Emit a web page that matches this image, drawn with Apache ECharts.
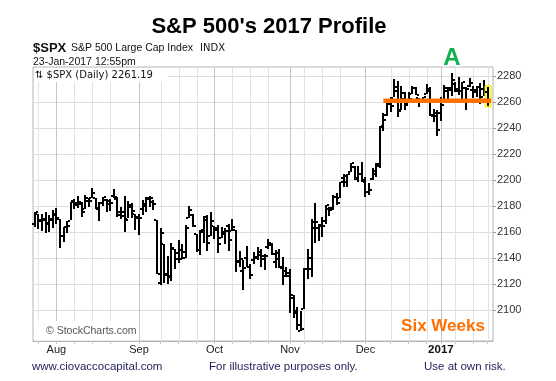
<!DOCTYPE html>
<html><head><meta charset="utf-8">
<script src="https://cdn.jsdelivr.net/npm/echarts@6/dist/echarts.min.js"></script>
<style>html,body{margin:0;padding:0;background:#fff}#c{width:556px;height:381px}</style>
</head><body><div id="c"></div>
<script>
// ---------- data ----------
const dates = [
'2016-07-22','2016-07-25','2016-07-26','2016-07-27','2016-07-28','2016-07-29',
'2016-08-01','2016-08-02','2016-08-03','2016-08-04','2016-08-05','2016-08-08','2016-08-09','2016-08-10','2016-08-11','2016-08-12',
'2016-08-15','2016-08-16','2016-08-17','2016-08-18','2016-08-19','2016-08-22','2016-08-23','2016-08-24','2016-08-25','2016-08-26',
'2016-08-29','2016-08-30','2016-08-31',
'2016-09-01','2016-09-02','2016-09-06','2016-09-07','2016-09-08','2016-09-09','2016-09-12','2016-09-13','2016-09-14','2016-09-15','2016-09-16',
'2016-09-19','2016-09-20','2016-09-21','2016-09-22','2016-09-23','2016-09-26','2016-09-27','2016-09-28','2016-09-29','2016-09-30',
'2016-10-03','2016-10-04','2016-10-05','2016-10-06','2016-10-07','2016-10-10','2016-10-11','2016-10-12','2016-10-13','2016-10-14',
'2016-10-17','2016-10-18','2016-10-19','2016-10-20','2016-10-21','2016-10-24','2016-10-25','2016-10-26','2016-10-27','2016-10-28','2016-10-31',
'2016-11-01','2016-11-02','2016-11-03','2016-11-04','2016-11-07','2016-11-08','2016-11-09','2016-11-10','2016-11-11',
'2016-11-14','2016-11-15','2016-11-16','2016-11-17','2016-11-18','2016-11-21','2016-11-22','2016-11-23','2016-11-25',
'2016-11-28','2016-11-29','2016-11-30',
'2016-12-01','2016-12-02','2016-12-05','2016-12-06','2016-12-07','2016-12-08','2016-12-09','2016-12-12','2016-12-13','2016-12-14','2016-12-15','2016-12-16',
'2016-12-19','2016-12-20','2016-12-21','2016-12-22','2016-12-23','2016-12-27','2016-12-28','2016-12-29','2016-12-30',
'2017-01-03','2017-01-04','2017-01-05','2017-01-06','2017-01-09','2017-01-10','2017-01-11','2017-01-12','2017-01-13',
'2017-01-17','2017-01-18','2017-01-19','2017-01-20','2017-01-23'
];
const opens = [
2166.47,2173.71,2168.97,2169.81,2166.05,2168.83,
2173.15,2169.94,2156.81,2163.51,2168.79,2183.76,2182.24,2182.81,2177.97,2183.74,
2186.08,2186.24,2177.84,2181.90,2184.24,2181.58,2187.81,2185.09,2173.29,2175.10,
2170.19,2179.45,2173.56,
2171.33,2177.49,2181.61,2185.17,2182.76,2169.08,2120.86,2150.47,2127.86,2125.36,2146.48,
2143.99,2145.94,2144.58,2170.94,2173.29,2158.54,2146.04,2161.85,2168.90,2156.51,
2164.33,2163.37,2155.15,2158.22,2164.19,2160.39,2161.35,2137.67,2130.26,2139.68,
2132.95,2138.31,2140.81,2142.51,2139.43,2148.50,2149.72,2136.97,2144.06,2132.23,2129.78,
2128.68,2109.43,2098.80,2083.79,2100.59,2131.56,2131.56,2167.49,2162.71,
2165.64,2168.29,2177.53,2178.61,2186.85,2186.43,2201.56,2198.55,2206.27,
2210.21,2200.76,2204.97,
2200.17,2191.12,2200.65,2207.26,2210.72,2241.13,2249.73,2258.83,2263.32,2268.35,2253.77,2266.81,
2259.24,2266.50,2270.54,2262.93,2260.25,2266.23,2270.23,2249.50,2251.61,
2251.57,2261.60,2268.18,2271.14,2273.59,2269.72,2268.60,2271.14,2272.74,
2269.14,2269.14,2271.90,2269.96,2267.78
];
const highs = [
2175.11,2173.71,2173.54,2174.98,2172.85,2177.09,
2178.29,2170.20,2163.79,2168.19,2182.87,2185.44,2187.66,2183.41,2188.45,2186.28,
2193.81,2186.24,2183.08,2187.03,2185.00,2185.15,2193.42,2186.66,2179.00,2187.94,
2183.48,2182.27,2173.79,
2173.56,2184.87,2186.57,2187.87,2184.94,2169.08,2163.30,2150.47,2141.33,2151.31,2146.48,
2153.61,2150.80,2165.11,2179.99,2173.75,2158.54,2161.13,2172.40,2172.67,2175.30,
2164.41,2165.46,2163.95,2162.93,2165.86,2169.60,2161.56,2145.36,2138.19,2149.19,
2135.61,2144.38,2148.44,2147.18,2142.63,2154.79,2151.44,2145.73,2147.13,2140.72,2133.25,
2131.45,2111.76,2102.56,2099.07,2132.00,2146.87,2170.10,2182.30,2165.92,
2171.36,2180.84,2179.22,2188.06,2189.89,2198.70,2204.80,2204.72,2213.35,
2211.14,2210.46,2214.10,
2202.60,2197.95,2209.42,2212.78,2241.63,2251.69,2259.80,2264.03,2277.53,2276.20,2272.12,2268.05,
2267.47,2272.56,2271.23,2263.18,2263.79,2273.82,2271.31,2254.51,2253.58,
2263.88,2272.82,2271.50,2282.10,2275.49,2279.27,2275.32,2271.78,2278.68,
2272.08,2272.01,2274.33,2276.96,2271.78
];
const lows = [
2163.24,2161.95,2160.18,2159.07,2159.74,2163.49,
2166.21,2147.58,2152.25,2159.07,2168.79,2177.85,2178.61,2172.00,2177.97,2179.42,
2186.08,2178.14,2168.50,2180.46,2175.13,2175.96,2186.80,2171.25,2169.74,2160.39,
2170.19,2170.41,2161.35,
2157.09,2173.59,2175.10,2179.07,2177.49,2127.81,2119.12,2120.27,2119.90,2122.36,2131.20,
2135.91,2139.17,2139.57,2170.94,2163.97,2145.04,2141.55,2151.79,2145.20,2156.51,
2154.77,2144.01,2155.15,2150.28,2144.85,2160.39,2128.84,2132.77,2114.72,2132.98,
2124.43,2135.49,2138.15,2133.44,2130.09,2146.91,2141.93,2131.59,2132.52,2119.36,2125.53,
2097.85,2094.00,2085.23,2083.79,2100.59,2123.56,2125.35,2151.17,2152.49,
2156.08,2166.38,2172.20,2176.65,2180.38,2186.43,2194.51,2194.51,2206.27,
2200.36,2198.15,2198.81,
2187.44,2188.37,2199.97,2202.21,2208.93,2237.57,2249.23,2252.37,2263.32,2248.44,2253.77,2254.24,
2259.24,2266.14,2265.15,2256.08,2258.84,2266.15,2249.11,2244.56,2233.62,
2245.13,2261.60,2260.45,2264.06,2268.04,2265.27,2260.83,2254.25,2271.51,
2262.81,2263.35,2258.41,2265.01,2257.02
];
const closes = [
2175.03,2168.48,2169.18,2166.58,2170.06,2173.60,
2170.84,2157.03,2163.79,2164.25,2182.87,2180.89,2181.74,2175.49,2185.79,2184.05,
2190.15,2178.15,2182.22,2187.02,2183.87,2182.64,2186.90,2175.44,2172.47,2169.04,
2180.38,2176.12,2170.95,
2170.86,2179.98,2186.48,2186.16,2181.30,2127.81,2159.04,2127.02,2125.77,2147.26,2139.16,
2139.12,2139.76,2163.12,2177.18,2164.69,2146.10,2159.93,2171.37,2151.13,2168.27,
2161.20,2150.49,2159.73,2160.77,2153.74,2163.66,2136.73,2139.18,2132.55,2132.98,
2126.50,2139.60,2144.29,2141.34,2141.16,2151.33,2143.16,2139.43,2133.04,2126.41,2126.15,
2111.72,2097.94,2088.66,2085.18,2131.52,2139.56,2163.26,2167.48,2164.45,
2164.20,2180.39,2176.94,2187.12,2181.90,2198.18,2202.94,2204.72,2213.35,
2201.72,2204.66,2198.81,
2191.08,2191.95,2204.71,2212.23,2241.35,2246.19,2259.53,2256.96,2271.72,2253.28,2262.03,2258.07,
2262.53,2270.76,2265.18,2260.96,2263.79,2268.88,2249.92,2249.26,2238.83,
2257.83,2270.75,2269.00,2276.98,2268.90,2268.90,2275.32,2270.44,2274.64,
2267.89,2271.89,2263.69,2271.31,2261.19
];
const monthNames = ['Jan','Feb','Mar','Apr','May','Jun','Jul','Aug','Sep','Oct','Nov','Dec'];
const yTickMin = 2100, yTickMax = 2280, yTickStep = 20;   // y tick labels 2100..2280
const yViewMin = 2076, yViewMax = 2287;
const supportLevel = 2261;
const supportStartDate = '2016-12-08';
const lastQuote = '2261.19';

// ---------- derived ----------
const N = dates.length;
const cats = dates.concat(['']);
const monthIdx = [], weekIdx0 = [];
for (let i = 1; i < N; i++) {
  const a = new Date(dates[i-1] + 'T00:00:00Z'), b = new Date(dates[i] + 'T00:00:00Z');
  if (a.getUTCMonth() !== b.getUTCMonth()) monthIdx.push(i);
  else if (b.getUTCDay() <= a.getUTCDay()) weekIdx0.push(i);
}
const weekIdx = weekIdx0.filter(i => monthIdx.every(m => Math.abs(i - m) > 3));
const monthSet = new Set(monthIdx), weekSet = new Set(weekIdx);
const ohlc = dates.map((d, i) => [i, opens[i], highs[i], lows[i], closes[i]]);
const gridLineData = monthIdx.map(i => [i, 2200, 1]).concat(weekIdx.map(i => [i, 2200, 0]));
const supportData = cats.map(() => null);
supportData[dates.indexOf(supportStartDate)] = supportLevel;
supportData[cats.length - 1] = supportLevel;

const FONT = 'Liberation Sans, Arial, sans-serif';
const chart = echarts.init(document.getElementById('c'), null, {renderer: 'canvas'});
const GL = 33, GR = 63, GT = 67, GB = 40;
const pxPerUnit = (381 - GT - GB) / (yViewMax - yViewMin);

chart.setOption({
  animation: false,
  backgroundColor: '#fff',
  grid: [
    {left: GL, right: GR, top: GT, bottom: GB, show: true, borderColor: '#b4b4b4', borderWidth: 1},
    {left: GL, right: GR, top: GT + (yViewMax - yTickMax) * pxPerUnit, height: (yTickMax - yTickMin) * pxPerUnit}
  ],
  xAxis: [
    {type: 'category', gridIndex: 0, data: cats, boundaryGap: true,
     axisLine: {show: true, lineStyle: {color: '#b4b4b4'}},
     axisTick: {show: true, alignWithLabel: true, length: 3, interval: (i) => monthSet.has(i) || weekSet.has(i), lineStyle: {color: '#c8c8c8'}},
     axisLabel: {interval: (i) => monthSet.has(i), margin: 3, fontSize: 11, color: '#222', fontFamily: FONT,
       formatter: (v) => { const m = +v.slice(5, 7) - 1; return m === 0 ? '{b|' + v.slice(0, 4) + '}' : monthNames[m]; },
       rich: {b: {fontWeight: 'bold', fontSize: 11.5, color: '#111', fontFamily: FONT}}},
     splitLine: {show: false}},
    {type: 'category', gridIndex: 1, data: cats, show: false}
  ],
  yAxis: [
    {type: 'value', gridIndex: 0, min: yViewMin, max: yViewMax, show: false, splitLine: {show: false}},
    {type: 'value', gridIndex: 1, position: 'right', min: yTickMin, max: yTickMax, interval: yTickStep,
     axisLine: {show: false}, axisTick: {show: true, length: 3, lineStyle: {color: '#999'}},
     axisLabel: {color: '#333', fontSize: 11, margin: 4, fontFamily: FONT, formatter: (v) => String(v)},
     splitLine: {show: true, lineStyle: {color: '#dedede', width: 1}}}
  ],
  series: [
    {type: 'custom', name: 'vgrid', xAxisIndex: 0, yAxisIndex: 0, data: gridLineData, silent: true, z: 1,
     encode: {x: 0, y: 1},
     renderItem: (params, api) => {
       const cs = params.coordSys;
       const x = Math.round(api.coord([api.value(0), api.value(1)])[0]) + 0.5;
       return {type: 'line', shape: {x1: x, y1: cs.y, x2: x, y2: cs.y + cs.height},
         style: {stroke: api.value(2) ? '#c6c6c6' : '#e2e2e2', lineWidth: 1}};
     }},
    {type: 'custom', name: '$SPX', xAxisIndex: 0, yAxisIndex: 0, data: ohlc, z: 3,
     encode: {x: 0, y: [1, 2, 3, 4]},
     renderItem: (params, api) => {
       const i = api.value(0);
       const pO = api.coord([i, api.value(1)]), pH = api.coord([i, api.value(2)]);
       const pL = api.coord([i, api.value(3)]), pC = api.coord([i, api.value(4)]);
       const x = Math.round(pH[0]);
       const ch = [];
       if (i === N - 1) ch.push({type: 'rect', shape: {x: x - 3, y: pH[1] - 1, width: 6, height: pL[1] - pH[1] + 2},
         style: {fill: '#ffff80', stroke: '#e8e800', lineWidth: 1}});
       ch.push({type: 'rect', shape: {x: x - 1, y: Math.round(pH[1]), width: 2, height: Math.max(1, Math.round(pL[1] - pH[1]))}, style: {fill: '#000'}});
       ch.push({type: 'rect', shape: {x: x - 3, y: Math.round(pO[1]) - 1, width: 2, height: 2}, style: {fill: '#000'}});
       ch.push({type: 'rect', shape: {x: x + 1, y: Math.round(pC[1]) - 1, width: 2, height: 2}, style: {fill: '#000'}});
       return {type: 'group', children: ch};
     }},
    {type: 'line', name: 'support', xAxisIndex: 0, yAxisIndex: 0, data: supportData, connectNulls: true,
     symbol: 'none', silent: true, z: 5, lineStyle: {color: '#ff7000', width: 4.5, cap: 'butt'}}
  ],
  graphic: [
    {type: 'text', x: 269, y: 27, z: 100, style: {text: "S&P 500's 2017 Profile", font: 'bold 22px ' + FONT, fill: '#000', align: 'center', verticalAlign: 'middle'}},
    {type: 'text', x: 33, y: 48, z: 100, style: {text: '$SPX', font: 'bold 13px ' + FONT, fill: '#111', verticalAlign: 'middle'}},
    {type: 'text', x: 71, y: 48, z: 100, style: {text: 'S&P 500 Large Cap Index', font: '10.5px ' + FONT, fill: '#111', verticalAlign: 'middle'}},
    {type: 'text', x: 200, y: 48, z: 100, style: {text: 'INDX', font: '10px DejaVu Sans, sans-serif', fill: '#111', verticalAlign: 'middle'}},
    {type: 'text', x: 33, y: 62, z: 100, style: {text: '23-Jan-2017 12:55pm', font: '10.5px ' + FONT, fill: '#111', verticalAlign: 'middle'}},
    {type: 'rect', z: 99, shape: {x: 34, y: 68, width: 134, height: 14}, style: {fill: '#fff'}},
    {type: 'text', x: 35, y: 75, z: 100, style: {text: '\u21C5 $SPX (Daily) ' + lastQuote, font: '10px DejaVu Sans, sans-serif', fill: '#111', verticalAlign: 'middle'}},
    {type: 'rect', z: 99, shape: {x: 34, y: 321, width: 105, height: 19.5}, style: {fill: '#fff'}},
    {type: 'text', x: 46, y: 331, z: 100, style: {text: '\u00A9 StockCharts.com', font: '10.5px ' + FONT, fill: '#555', verticalAlign: 'middle'}},
    {type: 'text', x: 452, y: 58, z: 100, style: {text: 'A', font: 'bold 24px ' + FONT, fill: '#12b04e', stroke: '#fff', lineWidth: 3, align: 'center', verticalAlign: 'middle'}},
    {type: 'text', x: 443, y: 326, z: 100, style: {text: 'Six Weeks', font: 'bold 17px ' + FONT, fill: '#ff7000', align: 'center', verticalAlign: 'middle'}},
    {type: 'text', x: 32, y: 367, z: 100, style: {text: 'www.ciovaccocapital.com', font: '11.5px ' + FONT, fill: '#1f1f5a', verticalAlign: 'middle'}},
    {type: 'text', x: 209, y: 367, z: 100, style: {text: 'For illustrative purposes only.', font: '11.5px ' + FONT, fill: '#1f1f5a', verticalAlign: 'middle'}},
    {type: 'text', x: 424, y: 367, z: 100, style: {text: 'Use at own risk.', font: '11.5px ' + FONT, fill: '#1f1f5a', verticalAlign: 'middle'}}
  ]
});
</script></body></html>
